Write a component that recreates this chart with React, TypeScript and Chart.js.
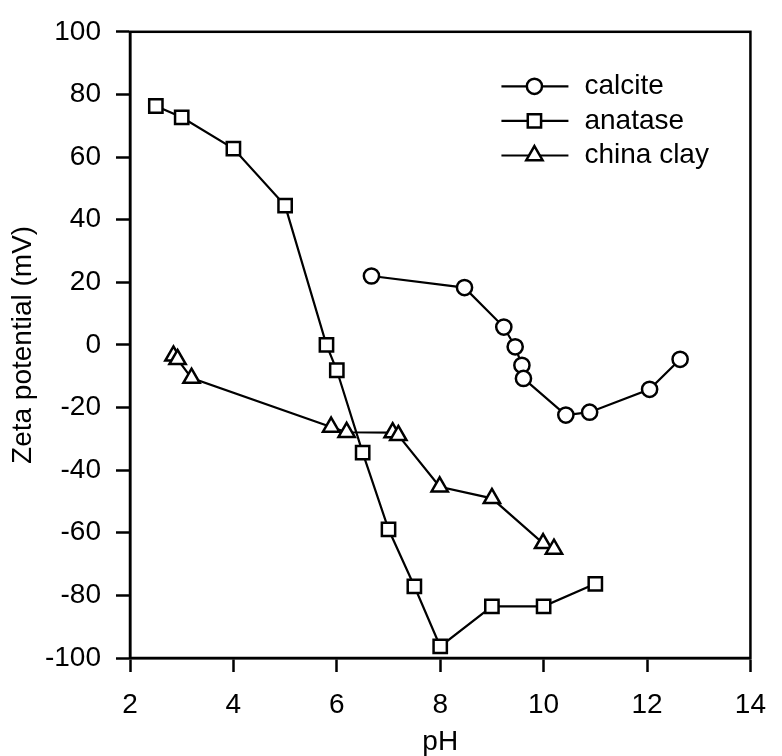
import React, { useEffect, useRef } from "react";
import { Chart, registerables } from "chart.js";

Chart.register(...registerables);

const FONT = '"Liberation Sans", Arial, Helvetica, sans-serif';

// Zeta potential measurements (mV) against pH
const calcitePH = [6.67, 8.47, 9.23, 9.45, 9.58, 9.61, 10.43, 10.89, 12.05, 12.64];
const calciteZeta = [22.0, 18.3, 5.7, -0.6, -6.5, -10.7, -22.4, -21.5, -14.2, -4.6];

const anatasePH = [2.5, 3.0, 4.0, 5.0, 5.8, 6.0, 6.5, 7.0, 7.5, 8.0, 9.0, 10.0, 11.0];
const anataseZeta = [76.3, 72.7, 62.7, 44.5, 0.0, -8.1, -34.4, -58.9, -77.1, -96.3, -83.5, -83.5, -76.3];

const clayPH = [2.84, 2.92, 3.19, 5.89, 6.19, 7.08, 7.19, 7.99, 9.0, 9.99, 10.2];
const clayZeta = [-3.5, -4.6, -10.6, -26.2, -27.9, -28.0, -28.9, -45.3, -49.0, -63.4, -65.2];

const seriesNames = ["calcite", "anatase", "china clay"];
const seriesMarkers = ["circle", "rect", "triangle"];
const markerRadius = [7.6, 9.4, 9.4];

const xTickValues = [2, 4, 6, 8, 10, 12, 14];
const yTickValues = [-100, -80, -60, -40, -20, 0, 20, 40, 60, 80, 100];

const toPoints = (xs: number[], ys: number[]) => xs.map((x, i) => ({ x, y: ys[i] }));

function drawMarker(ctx: CanvasRenderingContext2D, style: string, r: number, x: number, y: number) {
  ctx.beginPath();
  if (style === "circle") {
    ctx.arc(x, y, r, 0, Math.PI * 2);
  } else if (style === "rect") {
    const s = r * Math.SQRT1_2;
    ctx.rect(x - s, y - s, 2 * s, 2 * s);
  } else {
    const a = (2 * Math.PI) / 3;
    ctx.moveTo(x, y - r);
    ctx.lineTo(x + Math.sin(a) * r, y - Math.cos(a) * r);
    ctx.lineTo(x + Math.sin(2 * a) * r, y - Math.cos(2 * a) * r);
    ctx.closePath();
  }
  ctx.fillStyle = "#ffffff";
  ctx.fill();
  ctx.stroke();
}

// Frame around the plot area (top and right edges included)
const framePlugin = {
  id: "frame",
  beforeDatasetsDraw(chart: any) {
    const { ctx, chartArea } = chart;
    ctx.save();
    ctx.strokeStyle = "#000";
    ctx.lineWidth = 2.5;
    ctx.strokeRect(chartArea.left, chartArea.top, chartArea.right - chartArea.left, chartArea.bottom - chartArea.top);
    ctx.restore();
  },
};

// Legend inside the plot, line + marker + label per series
const insetLegendPlugin = {
  id: "insetLegend",
  afterDatasetsDraw(chart: any) {
    const { ctx, chartArea } = chart;
    const right = chartArea.right;
    ctx.save();
    ctx.strokeStyle = "#000";
    ctx.font = `28px ${FONT}`;
    ctx.textBaseline = "middle";
    ctx.textAlign = "left";
    seriesNames.forEach((name, i) => {
      const y = chartArea.top + 54.5 + i * 34.6;
      ctx.lineWidth = 2.2;
      ctx.beginPath();
      ctx.moveTo(right - 249, y);
      ctx.lineTo(right - 182, y);
      ctx.stroke();
      ctx.lineWidth = 2.5;
      drawMarker(ctx, seriesMarkers[i], markerRadius[i], right - 216, y);
      ctx.fillStyle = "#000";
      ctx.fillText(name, right - 166, y);
    });
    ctx.restore();
  },
};

export default function App() {
  const canvasRef = useRef<HTMLCanvasElement | null>(null);

  useEffect(() => {
    if (!canvasRef.current) return;
    const makeSet = (label: string, data: any[], i: number) => ({
      label,
      data,
      showLine: true,
      borderColor: "#000",
      borderWidth: 2.2,
      tension: 0,
      pointStyle: seriesMarkers[i],
      pointRadius: markerRadius[i],
      pointHoverRadius: markerRadius[i],
      pointBackgroundColor: "#fff",
      pointBorderColor: "#000",
      pointBorderWidth: 2.5,
    });

    const chart = new Chart(canvasRef.current, {
      type: "scatter",
      data: {
        datasets: [
          makeSet(seriesNames[0], toPoints(calcitePH, calciteZeta), 0),
          makeSet(seriesNames[1], toPoints(anatasePH, anataseZeta), 1),
          makeSet(seriesNames[2], toPoints(clayPH, clayZeta), 2),
        ],
      },
      options: {
        responsive: false,
        animation: false,
        devicePixelRatio: 1,
        layout: { padding: { left: 0, top: 26, right: 20, bottom: 0 } },
        plugins: { legend: { display: false }, tooltip: { enabled: false } },
        scales: {
          x: {
            type: "linear",
            min: 2,
            max: 14,
            afterBuildTicks: (scale: any) => {
              scale.ticks = xTickValues.map((value) => ({ value }));
            },
            afterFit: (scale: any) => {
              scale.height = 98;
            },
            border: { display: true, color: "#000", width: 2.5 },
            grid: { drawOnChartArea: false, drawTicks: true, tickLength: 14, tickWidth: 2.5, tickColor: "#000" },
            ticks: { color: "#000", font: { family: FONT, size: 28 }, padding: 16, maxRotation: 0 },
            title: {
              display: true,
              text: "pH",
              color: "#000",
              font: { family: FONT, size: 28, lineHeight: 1 },
              padding: { top: 0, bottom: 0 },
            },
          },
          y: {
            type: "linear",
            min: -100,
            max: 100,
            afterBuildTicks: (scale: any) => {
              scale.ticks = yTickValues.map((value) => ({ value }));
            },
            afterFit: (scale: any) => {
              scale.width = 130;
            },
            border: { display: true, color: "#000", width: 2.5 },
            grid: { drawOnChartArea: false, drawTicks: true, tickLength: 14, tickWidth: 2.5, tickColor: "#000" },
            ticks: { color: "#000", font: { family: FONT, size: 28 }, padding: 15 },
            title: {
              display: true,
              text: "Zeta potential (mV)",
              color: "#000",
              font: { family: FONT, size: 28, lineHeight: 1 },
              padding: { top: 9, bottom: 0 },
            },
          },
        },
      },
      plugins: [framePlugin, insetLegendPlugin],
    } as any);
    return () => chart.destroy();
  }, []);

  return (
    <div style={{ position: "absolute", left: 0, top: 0, width: 782, height: 756, background: "#fff" }}>
      <canvas ref={canvasRef} width={782} height={756} />
    </div>
  );
}
